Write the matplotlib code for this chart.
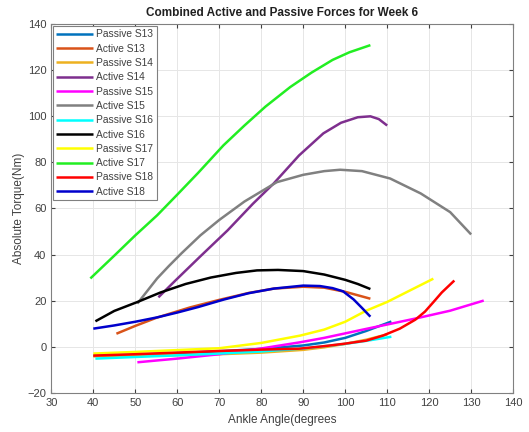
import matplotlib
matplotlib.use("Agg")
import matplotlib.pyplot as plt

# ankle angle (deg) / torque (Nm)
p13_x = [40, 50, 60, 70, 80, 90, 95, 100, 105, 111]
p13_y = [-4.0, -3.5, -2.8, -2.0, -1.0, 0.5, 1.8, 3.8, 6.8, 10.9]
a13_x = [45.5, 50, 55, 63, 70, 77, 83, 90, 95, 100, 103, 106]
a13_y = [5.6, 9.0, 12.5, 17.0, 20.3, 23.3, 25.2, 26.0, 25.6, 23.8, 22.3, 20.8]

p14_x = [40, 50, 60, 70, 80, 90, 95, 100, 105, 110]
p14_y = [-4.2, -4.0, -3.7, -3.3, -2.6, -1.4, -0.3, 1.2, 3.0, 5.3]
a14_x = [55.5, 59.5, 65.5, 72, 78, 83, 89, 94.8, 99, 103, 106, 108, 110]
a14_y = [21.4, 28.6, 39.2, 50.5, 62.0, 70.9, 83.0, 92.6, 97.2, 99.6, 100.0, 98.8, 96.0]

p15_x = [50.5, 60, 70, 80, 89.3, 95, 105, 110, 117, 125, 133]
p15_y = [-6.8, -5.2, -3.3, -0.8, 1.9, 3.8, 7.7, 9.6, 12.3, 15.6, 20.0]
a15_x = [50.5, 53, 55.2, 58, 61, 65.5, 70, 76, 83.7, 90, 95, 98.8, 104, 110.7, 118, 125, 130]
a15_y = [18.7, 24.5, 29.6, 35.0, 40.5, 48.3, 55.0, 63.0, 71.4, 74.6, 76.2, 76.8, 76.2, 73.0, 66.5, 58.4, 48.7]

p16_x = [40.5, 50, 60, 70, 80, 90, 100, 105, 111]
p16_y = [-5.2, -4.5, -3.8, -3.0, -2.1, -0.8, 1.2, 2.5, 4.3]
a16_x = [40.5, 45, 50.4, 56, 62, 68, 74, 79, 84, 90, 95, 100, 103, 106]
a16_y = [11.0, 15.5, 19.3, 23.5, 27.2, 30.0, 32.0, 33.1, 33.3, 32.8, 31.3, 29.0, 27.2, 25.0]

p17_x = [40, 50, 60, 70, 80, 89.3, 95, 100, 105, 110, 115, 121]
p17_y = [-3.0, -2.3, -1.5, -0.7, 1.6, 4.8, 7.4, 10.8, 15.6, 19.4, 24.0, 29.5]
a17_x = [39.3, 45, 50, 55.2, 60, 65, 71, 76, 81, 86.9, 92, 97, 101, 106]
a17_y = [29.6, 39.5, 48.3, 57.0, 66.0, 75.5, 87.4, 96.0, 104.2, 112.7, 119.0, 124.5, 127.8, 130.9]

p18_x = [40, 50, 60, 70, 80, 89, 95, 100, 105, 109, 113, 116.7, 119, 121, 123, 126]
p18_y = [-3.9, -3.3, -2.6, -1.9, -1.3, -0.9, 0.2, 1.3, 2.6, 4.8, 7.8, 11.7, 15.2, 19.3, 23.5, 28.7]
a18_x = [40, 45, 50, 55.2, 60, 65, 71, 77, 83, 90, 94, 97, 99.5, 102, 104, 106]
a18_y = [7.8, 9.2, 10.8, 12.7, 14.8, 17.2, 20.4, 23.2, 25.2, 26.5, 26.3, 25.4, 24.0, 20.5, 16.8, 13.0]

series = [
    ("Passive S13", p13_x, p13_y, "#0072BD"),
    ("Active S13", a13_x, a13_y, "#D95319"),
    ("Passive S14", p14_x, p14_y, "#EDB120"),
    ("Active S14", a14_x, a14_y, "#7E2F8E"),
    ("Passive S15", p15_x, p15_y, "#FF00FF"),
    ("Active S15", a15_x, a15_y, "#808080"),
    ("Passive S16", p16_x, p16_y, "#00FFFF"),
    ("Active S16", a16_x, a16_y, "#000000"),
    ("Passive S17", p17_x, p17_y, "#FFFF00"),
    ("Active S17", a17_x, a17_y, "#22EE22"),
    ("Passive S18", p18_x, p18_y, "#FF0000"),
    ("Active S18", a18_x, a18_y, "#0000CC"),
]

plt.rcParams["font.family"] = ["Liberation Sans", "DejaVu Sans"]

fig = plt.figure(figsize=(5.29, 4.32), dpi=100)
ax = fig.add_axes([0.097, 0.091, 0.873, 0.853])

for label, xs, ys, col in series:
    ax.plot(xs, ys, color=col, lw=1.8, label=label, solid_capstyle="butt",
            solid_joinstyle="round")

ax.set_xlim(30, 140)
ax.set_ylim(-20, 140)
ax.set_xticks(range(30, 141, 10))
ax.set_yticks(range(-20, 141, 20))
ax.grid(True, color="#e6e6e6", lw=0.7)
ax.tick_params(direction="in", length=3, labelsize=8, colors="#404040",
               top=True, right=True)
for sp in ax.spines.values():
    sp.set_color("#808080")
    sp.set_linewidth(0.8)

ax.set_xlabel("Ankle Angle(degrees", fontsize=8.5, color="#404040", labelpad=5)
ax.set_ylabel("Absolute Torque(Nm)", fontsize=8.5, color="#404040", labelpad=2)
ax.set_title("Combined Active and Passive Forces for Week 6", fontsize=8.5,
             fontweight="bold", color="#202020", pad=6)

leg = ax.legend(loc="upper left", fontsize=7.4, handlelength=3.6,
                handletextpad=0.25, labelspacing=0.42, borderpad=0.35,
                borderaxespad=0.15, fancybox=False, framealpha=1)
leg.get_frame().set_edgecolor("#808080")
leg.get_frame().set_linewidth(0.8)
for t in leg.get_texts():
    t.set_color("#404040")

fig.savefig("out.png", dpi=100)
